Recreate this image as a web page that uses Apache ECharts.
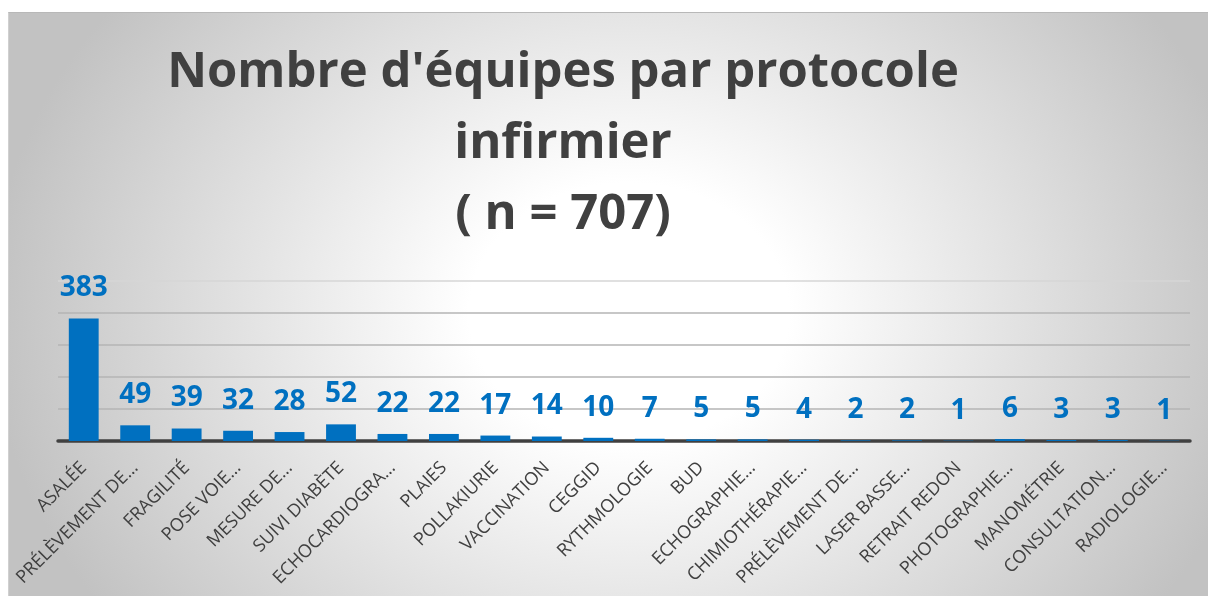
<!DOCTYPE html>
<html>
<head>
<meta charset="utf-8">
<script src="https://cdn.jsdelivr.net/npm/echarts@6/dist/echarts.min.js"></script>
<style>
  html, body { margin: 0; padding: 0; background: #fff; }
  #frame {
    position: absolute; left: 8px; top: 12px; width: 1200px; height: 584px;
    border-top: 1px solid #b8b8b8; border-left: 1px solid #d0d0d0;
    background: radial-gradient(ellipse 640px 520px at 620px 300px, #ffffff 25%, #c2c2c2 100%);
  }
  #chart { position: absolute; left: 0; top: 0; width: 1208px; height: 596px; }
</style>
</head>
<body>
<div id="frame"></div>
<div id="chart"></div>
<script>
  const titleLines = ["Nombre d'équipes par protocole", 'infirmier', '( n = 707)'];

  const protocols = [
    'ASALÉE', 'PRÉLÈVEMENT DE…', 'FRAGILITÉ', 'POSE VOIE…', 'MESURE DE…',
    'SUIVI DIABÈTE', 'ECHOCARDIOGRA…', 'PLAIES', 'POLLAKIURIE', 'VACCINATION',
    'CEGGID', 'RYTHMOLOGIE', 'BUD', 'ECHOGRAPHIE…', 'CHIMIOTHÉRAPIE…',
    'PRÉLÈVEMENT DE…', 'LASER BASSE…', 'RETRAIT REDON', 'PHOTOGRAPHIE…',
    'MANOMÉTRIE', 'CONSULTATION…', 'RADIOLOGIE…'
  ];

  const teamCounts = [383, 49, 39, 32, 28, 52, 22, 22, 17, 14, 10, 7, 5, 5, 4, 2, 2, 1, 6, 3, 3, 1];

  const yMax = 500;
  const yStep = 100;

  const blue = '#0070c0';
  const darkGrey = '#404040';

  const myChart = echarts.init(document.getElementById('chart'));

  const option = {
    backgroundColor: 'transparent',
    animation: false,
    title: {
      text: titleLines.join('\n'),
      left: 563,
      top: 38,
      padding: 0,
      textAlign: 'center',
      textStyle: {
        fontFamily: 'Open Sans',
        fontWeight: 'bold',
        fontSize: 49,
        lineHeight: 71,
        color: darkGrey
      }
    },
    grid: { left: 58, right: 18, top: 281, bottom: 155 },
    xAxis: {
      type: 'category',
      data: protocols,
      axisLine: { show: true, lineStyle: { color: darkGrey, width: 3.5 } },
      axisTick: { show: false },
      axisLabel: {
        interval: 0,
        rotate: 45,
        margin: 24,
        fontFamily: 'Open Sans',
        fontSize: 18,
        color: darkGrey
      }
    },
    yAxis: {
      type: 'value',
      min: 0,
      max: yMax,
      interval: yStep,
      axisLine: { show: false },
      axisTick: { show: false },
      axisLabel: { show: false },
      splitLine: {
        lineStyle: {
          // top line is lighter in the original
          color: ['#b4b4b4', '#b4b4b4', '#b4b4b4', '#b4b4b4', '#b4b4b4', '#d6d6d6'],
          width: 1.5
        }
      }
    },
    series: [{
      name: "Nombre d'équipes",
      type: 'bar',
      data: teamCounts,
      barWidth: '58%',
      itemStyle: { color: blue },
      label: {
        show: true,
        position: 'top',
        distance: 16,
        fontFamily: 'Open Sans',
        fontWeight: 'bold',
        fontSize: 28,
        color: blue
      }
    }]
  };

  myChart.setOption(option);
</script>
</body>
</html>
